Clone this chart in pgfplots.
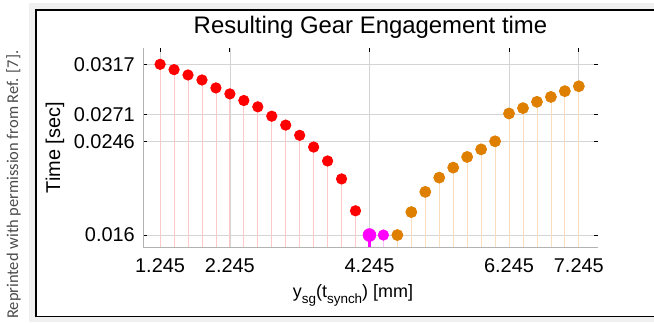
\documentclass[border=0pt]{standalone}
\usepackage{fontspec}
\setmainfont{Liberation Sans}
\newfontfamily\noticefont{Carlito}
\usepackage{pgfplots}
\pgfplotsset{compat=1.18}
\definecolor{stemred}{RGB}{255,200,200}
\definecolor{gorange}{RGB}{222,127,0}
\definecolor{stemorange}{RGB}{250,222,190}
\definecolor{mag}{RGB}{255,0,255}
\definecolor{stemmag}{RGB}{255,190,255}
\definecolor{gridgray}{RGB}{212,212,212}
\definecolor{noticegray}{RGB}{75,75,75}
\begin{document}
\begin{tikzpicture}[x=1bp,y=1bp]
\useasboundingbox (0,0) rectangle (654,322);
% shadow and frame
\fill[gray!12] (29,0) rectangle (660,319);
\fill[white] (36,5.5) rectangle (660,312);
\draw[black,line width=1.5bp] (660,312) -- (36,312) -- (36,5.5) -- (660,5.5);
\node[rotate=90,anchor=base west,inner sep=0pt,text=noticegray,font=\noticefont\fontsize{16.5}{18}\selectfont] at (18,3) {Reprinted with permission from Ref. [7].};
\begin{axis}[
  at={(143bp,75bp)}, anchor=south west,
  scale only axis, width=455bp, height=199bp,
  xmin=1.0, xmax=7.52, ymin=0.0149, ymax=0.0332,
  xtick={1.245,2.245,4.245,6.245,7.245},
  xticklabels={1.245,2.245,4.245,6.245,7.245},
  ytick={0.016,0.0246,0.0271,0.0317},
  yticklabels={0.016,0.0246,0.0271,0.0317},
  scaled y ticks=false,
  axis line style={draw=none},
  tick align=inside,
  major tick length=4bp,
  tick style={black,line width=0.8bp},
  xmajorgrids, ymajorgrids,
  major grid style={draw=gridgray,line width=0.7bp},
  x tick label style={anchor=base,yshift=-25bp,inner sep=0pt,font=\fontsize{20}{24}\selectfont},
  y tick label style={anchor=east,xshift=-8bp,inner sep=0pt,font=\fontsize{20}{24}\selectfont},
  title={Resulting Gear Engagement time},
  every axis title/.style={at={(axis description cs:0.5,1)},anchor=base,yshift=14bp,inner sep=0pt,font=\fontsize{24}{28}\selectfont},
  xlabel={y\raisebox{-0.35em}{\fontsize{13.5}{16}\selectfont sg}(t\raisebox{-0.35em}{\fontsize{13.5}{16}\selectfont synch}) [mm]},
  every axis x label/.style={at={(axis description cs:0.4615,0)},anchor=base,yshift=-50bp,inner sep=0pt,font=\fontsize{18}{22}\selectfont},
  ylabel={Time [sec]},
  every axis y label/.style={at={(axis description cs:-0.1934,0.5)},rotate=90,anchor=center,inner sep=0pt,font=\fontsize{20}{24}\selectfont},
  clip=true,
]
\draw[gray!60,line width=0.8bp] (rel axis cs:0,1) -- (rel axis cs:0,0) -- (rel axis cs:1,0);
\addplot[ycomb,draw=stemred,line width=0.8bp,mark=*,mark size=5.2bp,mark options={fill=red,draw=red,solid}] coordinates {
(1.245,0.03170) (1.445,0.03121) (1.645,0.03072) (1.845,0.03026) (2.045,0.02953)
(2.245,0.02898) (2.445,0.02837) (2.645,0.02779) (2.845,0.02693) (3.045,0.02611)
(3.245,0.02517) (3.445,0.02409) (3.645,0.02281) (3.845,0.02116) (4.045,0.01823)
};
\addplot[ycomb,draw=stemmag,line width=0.8bp,mark=*,mark size=5.2bp,mark options={fill=mag,draw=mag,solid}] coordinates {
(4.445,0.0160)
};
\addplot[ycomb,draw=mag,line width=3bp,mark=*,mark size=6.5bp,mark options={fill=mag,draw=mag,solid,line width=0.5bp}] coordinates {
(4.245,0.0160)
};
\addplot[ycomb,draw=stemorange,line width=0.8bp,mark=*,mark size=5.5bp,mark options={fill=gorange,draw=gorange,solid}] coordinates {
(4.645,0.01600) (4.845,0.01811) (5.045,0.01997) (5.245,0.02128) (5.445,0.02220)
(5.645,0.02318) (5.845,0.02388) (6.045,0.02462) (6.245,0.02718) (6.445,0.02767)
(6.645,0.02825) (6.845,0.02870) (7.045,0.02923) (7.245,0.02968)
};
\end{axis}
\end{tikzpicture}
\end{document}
